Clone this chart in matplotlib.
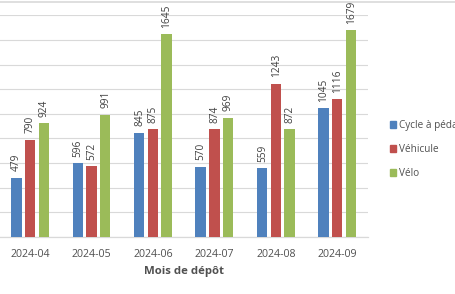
import matplotlib
matplotlib.use("Agg")
import matplotlib.pyplot as plt
import numpy as np
from matplotlib.lines import Line2D

months = ["2024-04", "2024-05", "2024-06", "2024-07", "2024-08", "2024-09"]
series_names = ["Cycle à pédales", "Véhicule", "Vélo"]
cycle = [479, 596, 845, 570, 559, 1045]
vehicule = [790, 572, 875, 874, 1243, 1116]
velo = [924, 991, 1645, 969, 872, 1679]
colors = ["#4F81BD", "#C0504D", "#9BBB59"]

plt.rcParams['font.family'] = ['Open Sans', 'DejaVu Sans']
W, H = 456, 294
fig = plt.figure(figsize=(W / 100, H / 100), dpi=100)

base_px = 236.7
top_px = 15.3
left_px = -0.7
right_px = 368.0
ax = fig.add_axes([left_px / W, (H - base_px) / H, (right_px - left_px) / W, (base_px - top_px) / H])

x = np.arange(len(months))
bw = 0.17
step = 0.223
txt_color = "#505050"
for i, (vals, name, c) in enumerate(zip([cycle, vehicule, velo], series_names, colors)):
    xs = x + (i - 1) * step
    ax.bar(xs, vals, width=bw, color=c, label=name, zorder=3)
    for xi, v in zip(xs, vals):
        ax.annotate(str(v), (xi, v), xytext=(0.3, 4.6), textcoords="offset points",
                    rotation=90, ha="center", va="bottom", fontsize=7.3,
                    color="#404040", annotation_clip=False)

ax.set_xlim(-0.5, len(months) - 0.5)
ax.set_ylim(0, 1800)
ax.set_yticks(np.arange(0, 1801, 200))
ax.yaxis.grid(True, color="#D9D9D9", linewidth=0.8, zorder=0)
ax.set_axisbelow(True)
for s in ["top", "right", "left"]:
    ax.spines[s].set_visible(False)
ax.spines["bottom"].set_color("#D9D9D9")
ax.spines["bottom"].set_linewidth(0.9)
ax.tick_params(axis="y", left=False, labelleft=False)
ax.tick_params(axis="x", bottom=False, labelsize=7.7, labelcolor=txt_color, pad=5)
ax.set_xticks(x)
ax.set_xticklabels(months)
ax.set_xlabel("Mois de dépôt", fontsize=8.2, fontweight="bold", color=txt_color, labelpad=5)

handles = [plt.Rectangle((0, 0), 1, 1, color=c) for c in colors]
leg = fig.legend(handles, series_names, loc="upper left",
                 bbox_to_anchor=(386 / W, 1 - 116 / H), frameon=False,
                 fontsize=7.2, handlelength=0.62, handleheight=0.62,
                 handletextpad=0.3, labelspacing=1.3, borderaxespad=0)
for t in leg.get_texts():
    t.set_color(txt_color)

fig.add_artist(Line2D([0, 1], [1 - 1.5 / H, 1 - 1.5 / H], color="#D9D9D9", linewidth=1.2))

fig.savefig("out.png", dpi=100)
